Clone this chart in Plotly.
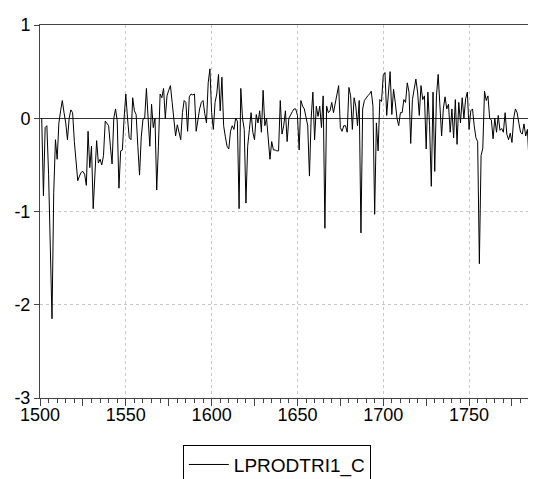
import plotly.graph_objects as go

# annual series
years = list(range(1501, 1789))
lprodtri1_c = [
    0.0, -0.83, -0.10, -0.08, -0.6, -1.4, -2.15, -0.8, -0.23, -0.44,
    -0.05, 0.08, 0.19, 0.06, -0.05, -0.23, 0.0, 0.09, 0.06, -0.25,
    -0.5, -0.67, -0.62, -0.58, -0.57, -0.6, -0.72, -0.14, -0.53, -0.3,
    -0.97, -0.55, -0.24, -0.48, -0.44, -0.5, -0.4, -0.03, -0.05, -0.08,
    -0.3, -0.49, 0.0, 0.1, -0.03, -0.75, -0.35, -0.34, 0.0, 0.26,
    0.0, -0.21, -0.23, 0.22, 0.08, 0.04, -0.3, -0.61, -0.2, -0.01,
    0.0, 0.32, 0.0, -0.3, 0.15, -0.1, 0.0, -0.77, -0.3, 0.26,
    0.22, 0.32, 0.0, 0.24, 0.3, 0.35, 0.17, 0.0, -0.19, -0.07,
    -0.15, -0.23, 0.06, 0.19, 0.17, -0.14, 0.23, 0.26, 0.25, 0.26,
    -0.14, 0.0, 0.1, 0.17, 0.19, 0.05, -0.05, 0.38, 0.53, 0.06,
    -0.12, 0.17, 0.26, 0.47, 0.08, 0.44, -0.08, -0.2, -0.3, -0.33,
    -0.14, -0.08, -0.12, 0.0, -0.03, -0.97, 0.32, 0.0, -0.12, -0.91,
    -0.3, -0.12, 0.06, -0.15, -0.23, 0.04, -0.05, 0.08, -0.15, 0.3,
    -0.08, 0.0, -0.23, -0.44, -0.25, -0.34, -0.34, -0.35, -0.35, 0.19,
    -0.17, -0.08, 0.08, -0.25, 0.0, 0.04, 0.07, 0.1, 0.1, 0.03,
    -0.34, 0.19, 0.13, 0.1, 0.0, -0.08, -0.62, 0.0, 0.28, -0.23,
    0.13, 0.02, 0.13, -0.1, 0.24, -1.18, 0.13, 0.06, 0.08, 0.17,
    0.06, 0.15, 0.23, 0.35, -0.1, -0.14, -0.08, -0.08, -0.15, 0.33,
    0.24, -0.12, 0.22, 0.13, -0.08, 0.19, -1.23, 0.1, 0.19, 0.22,
    0.24, 0.26, 0.29, 0.13, -1.03, -0.05, -0.35, 0.2, 0.18, 0.46,
    0.49, 0.03, 0.31, 0.5, 0.04, 0.31, 0.17, 0.0, -0.08, 0.06,
    0.06, 0.2, 0.17, 0.38, 0.28, -0.27, 0.2, 0.3, 0.42, 0.28,
    0.03, 0.35, 0.2, 0.24, -0.33, 0.28, -0.08, -0.73, 0.28, -0.57,
    0.24, 0.47, 0.1, -0.19, 0.1, 0.23, 0.1, 0.15, -0.15, 0.1,
    -0.21, 0.2, -0.28, 0.17, -0.05, 0.22, 0.0, 0.21, 0.28, -0.12,
    0.08, 0.1, -0.08, -0.21, -0.25, -1.56, -0.4, -0.32, 0.29, 0.19,
    0.24, 0.0, -0.02, -0.22, 0.0, -0.15, 0.03, -0.13, -0.11, -0.15,
    0.06, -0.17, -0.23, -0.16, -0.26, 0.0, 0.1, 0.06, -0.05, -0.15,
    -0.17, -0.06, -0.19, -0.12, -0.49, -0.09, -0.08, -0.25,
]

y_ticks = [-3, -2, -1, 0, 1]
y_labels = ["-3", "-2", "-1", "0", "1"]
x_range = [1500, 1789]
y_range = [-3, 1]
font = "Liberation Sans, Arial, sans-serif"

fig = go.Figure()
fig.add_trace(
    go.Scatter(
        x=years,
        y=lprodtri1_c,
        mode="lines",
        name="LPRODTRI1_C",
        line=dict(color="black", width=1),
    )
)
# helper trace so the overlaid tick axis gets drawn
fig.add_trace(go.Scatter(x=[], y=[], xaxis="x2", showlegend=False, hoverinfo="skip"))

# the html page adds an 8px body margin, so the figure is sized to fit what is left
fig.update_layout(
    width=528,
    height=471,
    margin=dict(l=32, r=0, t=17, b=81, autoexpand=False),
    paper_bgcolor="white",
    plot_bgcolor="white",
    font=dict(family=font, size=18, color="black"),
    showlegend=True,
    legend=dict(
        orientation="h",
        x=0.288,
        xanchor="left",
        y=-0.125,
        yanchor="top",
        bordercolor="black",
        borderwidth=1,
        font=dict(size=19),
        itemwidth=40,
    ),
    xaxis=dict(
        range=x_range,
        dtick=50,
        tick0=1500,
        automargin=False,
        showgrid=True,
        gridcolor="#c8c8c8",
        griddash="dot",
        gridwidth=1,
        showline=True,
        linecolor="#444",
        linewidth=1,
        mirror=True,
        ticks="",
        zeroline=False,
        minor=dict(dtick=5, tick0=1500, ticks="outside", ticklen=4, tickcolor="#444", showgrid=False),
    ),
    xaxis2=dict(
        range=x_range,
        overlaying="x",
        side="bottom",
        dtick=25,
        tick0=1500,
        automargin=False,
        ticks="outside",
        ticklen=7,
        tickcolor="#444",
        showticklabels=False,
        showgrid=False,
        zeroline=False,
        showline=False,
    ),
    yaxis=dict(
        range=y_range,
        tickvals=y_ticks,
        ticktext=y_labels,
        automargin=False,
        showgrid=True,
        gridcolor="#c8c8c8",
        griddash="dot",
        gridwidth=1,
        zeroline=True,
        zerolinecolor="#333",
        zerolinewidth=1,
        showline=True,
        linecolor="#444",
        linewidth=1,
        ticks="outside",
        ticklen=5,
        tickcolor="#444",
    ),
)

fig.write_html("out.html")
